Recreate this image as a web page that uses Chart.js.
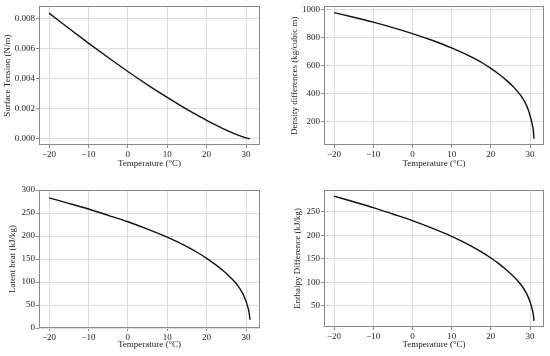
<!DOCTYPE html>
<html>
<head>
<meta charset="utf-8">
<script src="https://cdn.jsdelivr.net/npm/chart.js@4.4.1/dist/chart.umd.min.js"></script>
<style>
  html, body { margin: 0; padding: 0; background: #fff; }
  #wrap { position: relative; width: 550px; height: 356px; }
  .cell { position: absolute; width: 275px; height: 178px; }
</style>
</head>
<body>
<div id="wrap">
  <div class="cell" style="left:0;top:0"><canvas id="c_tension"></canvas></div>
  <div class="cell" style="left:275px;top:0"><canvas id="c_density"></canvas></div>
  <div class="cell" style="left:0;top:178px"><canvas id="c_latent"></canvas></div>
  <div class="cell" style="left:275px;top:178px"><canvas id="c_enthalpy"></canvas></div>
</div>
<script>
// saturation temperature (°C)
var temperature = [-20, -15, -10, -5, 0, 5, 10, 15, 18, 20, 22, 24, 26, 27, 28, 29, 29.5, 30, 30.3, 30.6, 30.8, 31];

var surfaceTension = [0.00837, 0.00736, 0.00637, 0.00541, 0.00448, 0.00359, 0.00275, 0.00195, 0.00151, 0.00122, 0.00095, 0.00069, 0.00045, 0.00034, 0.00024, 0.00014, 0.0001, 0.00006, 0.000037, 0.000018, 0.000007, 0];
var densityDiff = [980, 947, 912, 873, 830, 782, 727, 662, 617, 580, 540, 494, 440, 408, 370, 320, 285, 240, 208, 172, 140, 75];
var latentHeat = [283, 271, 258.6, 245, 231, 215, 197.5, 177, 162.5, 151.5, 139.5, 126, 110.5, 101.5, 91, 77.5, 69, 58, 50, 41, 33, 18];
var enthalpyDiff = [283, 271, 258.6, 245, 231, 215, 197.5, 177, 162.5, 151.5, 139.5, 126, 110.5, 101.5, 91, 77.5, 69, 58, 50, 41, 33, 18];

var xTicks = [-20, -10, 0, 10, 20, 30];

var FONT = { family: '"Liberation Serif", "Times New Roman", serif', size: 9 };
var GRID = '#dcdcdc';
var FRAME = '#8a8a8a';

function points(ys) {
  return temperature.map(function (t, i) { return { x: t, y: ys[i] }; });
}

var framePlugin = {
  id: 'frame',
  beforeDraw: function (chart) {
    var ctx = chart.ctx;
    ctx.save();
    ctx.fillStyle = 'white';
    ctx.fillRect(0, 0, chart.width, chart.height);
    ctx.restore();
  },
  afterDatasetsDraw: function (chart) {
    var a = chart.chartArea, ctx = chart.ctx;
    ctx.save();
    ctx.strokeStyle = FRAME;
    ctx.lineWidth = 1;
    ctx.strokeRect(Math.round(a.left) + 0.5, Math.round(a.top) + 0.5,
      Math.round(a.right - a.left) - 1, Math.round(a.bottom - a.top) - 1);
    ctx.restore();
  }
};

function makeChart(id, ys, yTitle, opt) {
  return new Chart(document.getElementById(id), {
    type: 'line',
    data: {
      datasets: [{
        data: points(ys),
        borderColor: '#111',
        borderWidth: 1.4,
        pointRadius: 0,
        cubicInterpolationMode: 'monotone',
        clip: false
      }]
    },
    options: {
      animation: false,
      responsive: true,
      maintainAspectRatio: false,
      layout: { padding: { top: opt.top, right: opt.right, left: 0, bottom: 0 } },
      plugins: { legend: { display: false }, tooltip: { enabled: false } },
      scales: {
        x: {
          type: 'linear',
          min: -22.55,
          max: 33.55,
          afterBuildTicks: function (s) { s.ticks = xTicks.map(function (v) { return { value: v }; }); },
          afterFit: function (s) { s.height = opt.xh; },
          grid: { color: GRID, tickColor: FRAME, tickLength: 3 },
          border: { display: false },
          ticks: { font: FONT, color: '#222', padding: 1, maxRotation: 0,
            callback: function (v) { return v < 0 ? '\u2212' + Math.abs(v) : String(v); } },
          title: { display: true, text: 'Temperature (\u00b0C)', font: FONT, color: '#222',
            padding: { top: 0, bottom: opt.xpad } }
        },
        y: {
          type: 'linear',
          min: opt.ymin,
          max: opt.ymax,
          afterBuildTicks: function (s) { s.ticks = opt.yTicks.map(function (v) { return { value: v }; }); },
          afterFit: function (s) { s.width = opt.yw; },
          grid: { color: GRID, tickColor: FRAME, tickLength: 3 },
          border: { display: false },
          ticks: { font: FONT, color: '#222', padding: 1,
            callback: opt.fmt || function (v) { return String(v); } },
          title: { display: true, text: yTitle, font: FONT, color: '#222',
            padding: { top: opt.ypad, bottom: 0 } }
        }
      }
    },
    plugins: [framePlugin]
  });
}

makeChart('c_tension', surfaceTension, 'Surface Tension (N/m)', {
  top: 6, right: 15, yw: 39, xh: 33, xpad: 9, ypad: 2,
  ymin: -0.00042, ymax: 0.00882,
  yTicks: [0, 0.002, 0.004, 0.006, 0.008],
  fmt: function (v) { return v.toFixed(3); }
});
makeChart('c_density', densityDiff, 'Density differences (kg/cubic m)', {
  top: 6, right: 6, yw: 49, xh: 33, xpad: 9, ypad: 14,
  ymin: 30, ymax: 1025,
  yTicks: [200, 400, 600, 800, 1000]
});
makeChart('c_latent', latentHeat, 'Latent heat (kJ/kg)', {
  top: 12, right: 15, yw: 39, xh: 28, xpad: 6, ypad: 7,
  ymin: 0, ymax: 300,
  yTicks: [0, 50, 100, 150, 200, 250, 300]
});
makeChart('c_enthalpy', enthalpyDiff, 'Enthalpy Difference (kJ/kg)', {
  top: 12, right: 6, yw: 49, xh: 29, xpad: 6, ypad: 17,
  ymin: 5, ymax: 296,
  yTicks: [50, 100, 150, 200, 250]
});
</script>
</body>
</html>
